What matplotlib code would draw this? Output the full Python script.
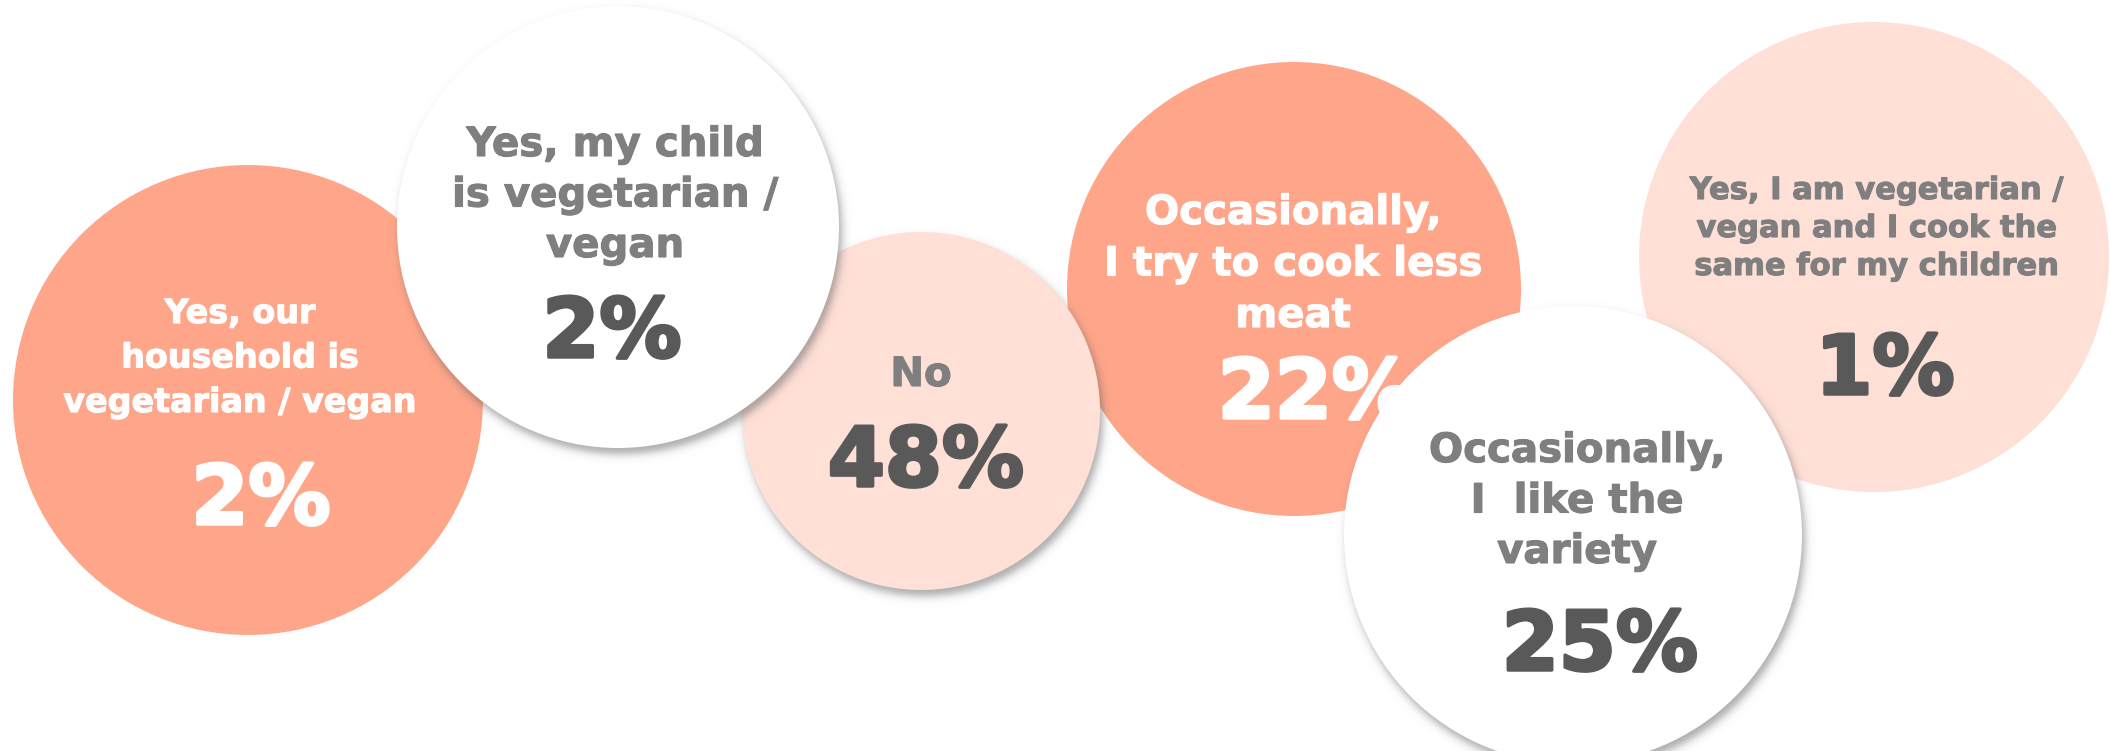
import numpy as np
import matplotlib
matplotlib.use('Agg')
import matplotlib.pyplot as plt
import matplotlib.patheffects as pe
from matplotlib.patches import Circle

# survey answers
labels = [
    ['Yes, our', 'household is', 'vegetarian / vegan'],
    ['Yes, my child', 'is vegetarian /', 'vegan'],
    ['No'],
    ['Occasionally,', 'I try to cook less', 'meat'],
    ['Occasionally,', 'I  like the', 'variety'],
    ['Yes, I am vegetarian /', 'vegan and I cook the', 'same for my children'],
]
shares = [2, 2, 48, 22, 25, 1]

ORANGE = '#FFA68A'
PINK = '#FFE0D7'
WHITE = '#FFFFFF'
GREY = '#7F7F7F'
DARK = '#595959'

# bubble layout in pixels: center x, center y, radius, fill, drop shadow
bubbles = [
    (248, 400, 235, ORANGE, False),
    (618, 227, 221, WHITE, True),
    (921, 411, 179, PINK, True),
    (1294, 289, 227, ORANGE, False),
    (1573, 535, 229, WHITE, True),
    (1874, 257, 235, PINK, False),
]
# drawing order (back to front)
order = [0, 3, 5, 2, 1, 4]
# text styling per bubble: label x, first baseline, line gap, size, colour,
# pct x, pct baseline, pct size, pct colour
text_style = [
    (240, 323, 44.5, 24, WHITE, 261, 524, 59, WHITE),
    (615, 156, 50.5, 29, GREY, 612, 357, 59, DARK),
    (921, 386, 0, 29, GREY, 926, 486, 59, DARK),
    (1293, 224, 51.5, 29, WHITE, 1316, 418, 59, WHITE),
    (1577, 462, 50.5, 29, GREY, 1600, 670, 59, DARK),
    (1876, 199, 38, 22, GREY, 1885, 394, 59, DARK),
]

FONT = ['DejaVu Sans']

fig = plt.figure(figsize=(21.1, 7.51), dpi=100)
ax = fig.add_axes([0, 0, 1, 1])
ax.set_xlim(0, 2110)
ax.set_ylim(751, 0)
ax.set_aspect('equal')
ax.axis('off')


def shadow(cx, cy, r, z, dx=3, dy=6, w=5.0, a=0.5):
    pad = 30
    x0, x1 = cx - r - pad, cx + r + pad
    y0, y1 = cy - r - pad, cy + r + pad
    xs = np.arange(x0, x1) + 0.5
    ys = np.arange(y0, y1) + 0.5
    X, Y = np.meshgrid(xs, ys)
    d = np.hypot(X - cx - dx, Y - cy - dy)
    alpha = a * 0.5 * (1 - np.tanh((d - r) / w))
    img = np.zeros(X.shape + (4,))
    img[..., :3] = 0.35
    img[..., 3] = alpha
    ax.imshow(img, extent=(x0, x1, y1, y0), origin='upper',
              interpolation='bilinear', zorder=z)


for k, i in enumerate(order):
    cx, cy, r, fc, has_shadow = bubbles[i]
    z = 10 * (k + 1)
    if has_shadow:
        shadow(cx, cy, r, z)
    ax.add_patch(Circle((cx, cy), r, facecolor=fc, edgecolor='none', zorder=z + 1))

    lx, ly, gap, fs, col, px, py, pfs, pcol = text_style[i]
    # thicken the bold face a little with a same-colour outline
    for j, line in enumerate(labels[i]):
        ax.text(lx, ly + j * gap, line, ha='center', va='baseline',
                fontsize=fs, color=col, family=FONT, fontweight='bold',
                zorder=z + 2,
                path_effects=[pe.withStroke(linewidth=0.8, foreground=col)])
    ax.text(px, py, f'{shares[i]}%', ha='center', va='baseline',
            fontsize=pfs, color=pcol, family=FONT, fontweight='bold',
            zorder=z + 2,
            path_effects=[pe.withStroke(linewidth=2.5, foreground=pcol)])

fig.savefig('out.png', dpi=100, facecolor='white')
